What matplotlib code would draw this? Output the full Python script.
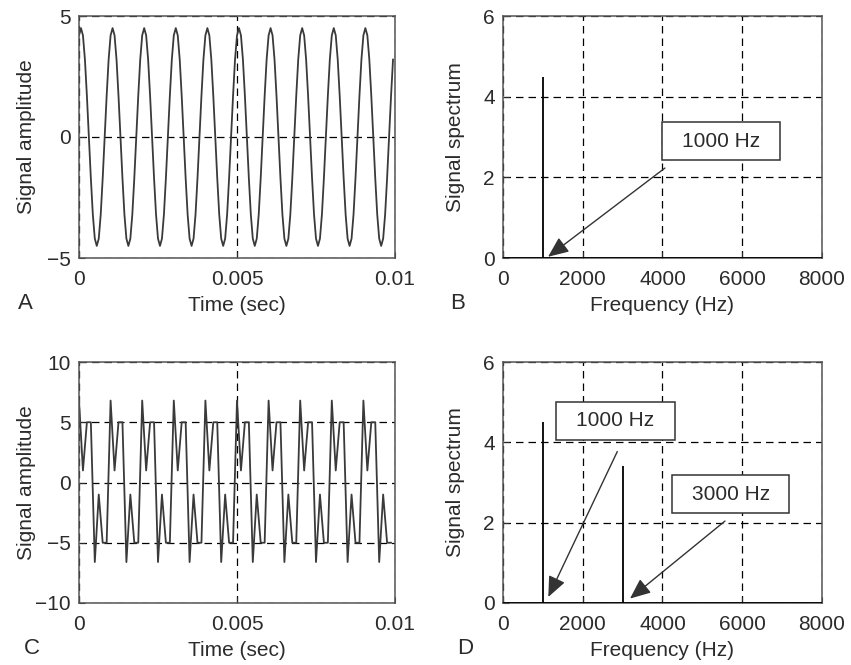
import numpy as np
import matplotlib.pyplot as plt
from matplotlib.patches import Rectangle

plt.rcParams['font.family'] = ['Liberation Sans', 'DejaVu Sans']

n_periods = 10
fs_a = 16000
period_a = [4.2, 4.5, 4.2, 3.2, 1.7, 0.0, -1.7, -3.2,
            -4.2, -4.5, -4.2, -3.2, -1.7, 0.0, 1.7, 3.2]
fs_c = 8000
period_c = [6.8, 1.0, 5.0, 5.0, -6.6, -1.0, -5.0, -5.0]

# spectrum peaks
peaks_b_freq = [1000]
peaks_b_amp = [4.5]
peaks_d_freq = [1000, 3000]
peaks_d_amp = [4.5, 3.4]

time_ticks = [0, 0.005, 0.01]
time_labels = ["0", "0.005", "0.01"]
freq_ticks = [0, 2000, 4000, 6000, 8000]

txt = '#2b2b2b'
line_col = '#3a3a3a'
fs_txt = 15


def style_axes(ax):
  ax.grid(True, color='k', linestyle=(0, (6, 4)), linewidth=0.9)
  ax.set_axisbelow(True)
  ax.tick_params(direction='in', length=4, labelsize=fs_txt, colors=txt, pad=6)
  ax.tick_params(axis='x', pad=8.5)
  for s in ax.spines.values():
    s.set_color('#555555')
    s.set_linewidth(1.1)


def time_panel(ax, period, fs, ylim, yticks):
  sig = np.tile(period, n_periods)
  t = np.arange(len(sig)) / fs
  ax.plot(t, sig, color=line_col, lw=1.3)
  ax.set_xlim(0, 0.01)
  ax.set_ylim(*ylim)
  ax.set_xticks(time_ticks)
  ax.set_xticklabels(time_labels)
  ax.set_yticks(yticks)
  ax.set_yticklabels([f"{v}".replace("-", "\u2212") for v in yticks])
  ax.set_xlabel("Time (sec)", fontsize=fs_txt, color=txt, labelpad=5)
  ax.set_ylabel("Signal amplitude", fontsize=fs_txt, color=txt)
  ax.yaxis.set_label_coords(-0.136, 0.5)
  style_axes(ax)


def spec_panel(ax, freqs, amps):
  ax.axhline(0, color='k', lw=2.0, zorder=3)
  ax.vlines(freqs, 0, amps, color='k', lw=1.3, zorder=3)
  ax.set_xlim(0, 8000)
  ax.set_ylim(0, 6)
  ax.set_xticks(freq_ticks)
  ax.set_yticks([0, 2, 4, 6])
  ax.set_xlabel("Frequency (Hz)", fontsize=fs_txt, color=txt, labelpad=5)
  ax.set_ylabel("Signal spectrum", fontsize=fs_txt, color=txt)
  ax.yaxis.set_label_coords(-0.119, 0.5)
  style_axes(ax)


def label_box(ax, text, x0, x1, y0, y1, tail, head):
  ax.add_patch(Rectangle((x0, y0), x1 - x0, y1 - y0, facecolor='white',
                         edgecolor='#333333', lw=1.1, zorder=4))
  ax.text((x0 + x1) / 2, (y0 + y1) / 2, text, ha='center', va='center',
          fontsize=fs_txt, color=txt, zorder=5)
  ax.annotate("", xy=head, xytext=tail, zorder=5,
              arrowprops=dict(arrowstyle='-|>,head_length=0.7,head_width=0.3',
                              color='#333333', lw=1.0, mutation_scale=18,
                              shrinkA=0, shrinkB=0))


fig = plt.figure(figsize=(8.51, 6.65), dpi=100)
W, H = 851, 665


def add_ax(l, r, t, b):
  return fig.add_axes([l / W, 1 - b / H, (r - l) / W, (b - t) / H])


ax_a = add_ax(79, 395, 16, 258)
ax_b = add_ax(503, 822, 16, 258)
ax_c = add_ax(79, 395, 362, 603)
ax_d = add_ax(503, 822, 362, 603)

time_panel(ax_a, period_a, fs_a, (-5, 5), [-5, 0, 5])
time_panel(ax_c, period_c, fs_c, (-10, 10), [-10, -5, 0, 5, 10])
spec_panel(ax_b, peaks_b_freq, peaks_b_amp)
spec_panel(ax_d, peaks_d_freq, peaks_d_amp)

label_box(ax_b, f"{peaks_b_freq[0]} Hz", 3980, 6940, 2.42, 3.38,
          (4060, 2.23), (1130, 0.03))
label_box(ax_d, f"{peaks_d_freq[0]} Hz", 1330, 4310, 4.07, 5.0,
          (2866, 3.77), (1136, 0.15))
label_box(ax_d, f"{peaks_d_freq[1]} Hz", 4245, 7180, 2.24, 3.18,
          (5567, 2.04), (3185, 0.11))

for letter, x, y in [("A", 25, 303), ("B", 458, 303), ("C", 32, 648), ("D", 465, 648)]:
  fig.text(x / W, 1 - y / H, letter, fontsize=16, color=txt, ha='center', va='center')

fig.savefig("out.png", dpi=100, facecolor='white')
